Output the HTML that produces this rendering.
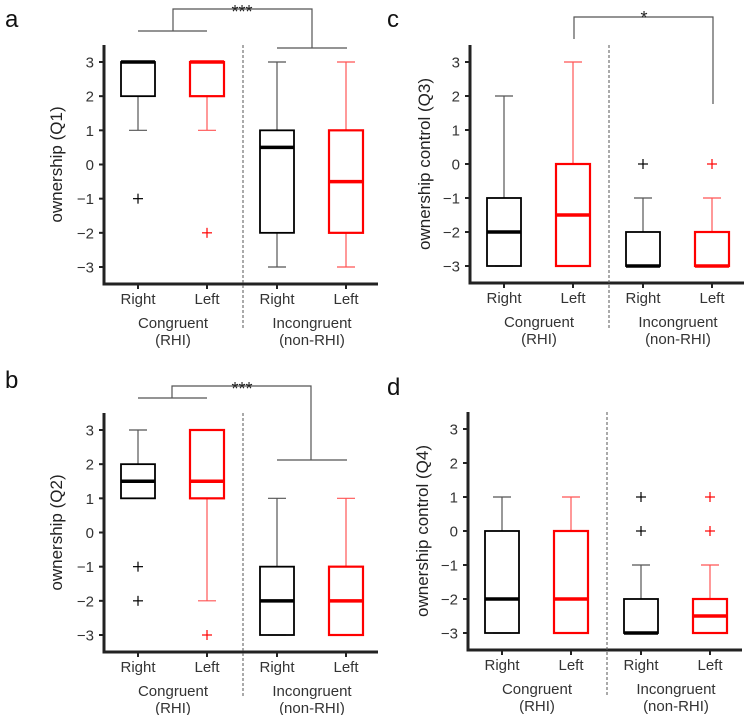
<!DOCTYPE html>
<html><head><meta charset="utf-8"><style>
body{margin:0;background:#fff;}
svg{display:block;font-family:"Liberation Sans",Arial,sans-serif;}
</style></head><body>
<svg id="chart" width="750" height="715" viewBox="0 0 750 715"></svg>
<script>
const groups = ["Right","Left","Right","Left"];
const yTicks = [3,2,1,0,-1,-2,-3];
const tickLabels = ["3","2","1","0","\u22121","\u22122","\u22123"];
// each box: [min, q1, median, q3, max]
const statsA = [[1,2,3,3,3],[1,2,3,3,3],[-3,-2,0.5,1,3],[-3,-2,-0.5,1,3]];
const outliersA = [[-1],[-2],[],[]];
const statsB = [[1,1,1.5,2,3],[-2,1,1.5,3,3],[-3,-3,-2,-1,1],[-3,-3,-2,-1,1]];
const outliersB = [[-1,-2],[-3],[],[]];
const statsC = [[-3,-3,-2,-1,2],[-3,-3,-1.5,0,3],[-3,-3,-3,-2,-1],[-3,-3,-3,-2,-1]];
const outliersC = [[],[],[0],[0]];
const statsD = [[-3,-3,-2,0,1],[-3,-3,-2,0,1],[-3,-3,-3,-2,-1],[-3,-3,-2.5,-2,-1]];
const outliersD = [[],[],[0,1],[0,1]];

const NS="http://www.w3.org/2000/svg";
const svg=document.getElementById('chart');
function mk(tag,attrs,parent){const e=document.createElementNS(NS,tag);for(const k in attrs)e.setAttribute(k,attrs[k]);(parent||svg).appendChild(e);return e;}

const panels=[
 {id:'a',letter:'a',lx:5,ly:27,ax:104,y3:62,ym3:267,top:45,bot:284,title:'ownership (Q1)',tx:62,stats:statsA,out:outliersA,
  br:{type:'two',ly:31,lv:173,top:9,rv:312,ry:48,star:'***',sx:242,sy:18}},
 {id:'b',letter:'b',lx:5,ly:388,ax:104,y3:430,ym3:635,top:413,bot:652,title:'ownership (Q2)',tx:62,stats:statsB,out:outliersB,
  br:{type:'two',ly:398,lv:172,top:386,rv:311,ry:460,star:'***',sx:242,sy:395}},
 {id:'c',letter:'c',lx:387,ly:27,ax:470,y3:62,ym3:266,top:45,bot:283,title:'ownership control (Q3)',tx:430,stats:statsC,out:outliersC,
  br:{type:'one',l:574,ly:39,top:17,r:713,ry:104,star:'*',sx:644,sy:24}},
 {id:'d',letter:'d',lx:387,ly:395,ax:468,y3:429,ym3:633,top:412,bot:650,title:'ownership control (Q4)',tx:428,stats:statsD,out:outliersD,br:null}
];
const offs=[34,103,173,242];
panels.forEach(p=>{
  const g=mk('g',{});
  
  
  const y=v=>p.ym3+(v+3)*(p.y3-p.ym3)/6;
  const lt=mk('text',{x:p.lx,y:p.ly,'font-size':24,fill:'#111'},g);lt.textContent=p.letter;
  
  
  const ya=mk('line',{x1:p.ax,y1:p.top,x2:p.ax,y2:p.bot,stroke:'#222','stroke-width':3},g);
  
  
  const xa=mk('line',{x1:p.ax-1.5,y1:p.bot,x2:p.ax+274,y2:p.bot,stroke:'#222','stroke-width':3},g);
  
  
  yTicks.forEach((t,i)=>{
    mk('line',{x1:p.ax-5,y1:y(t),x2:p.ax,y2:y(t),stroke:'#222','stroke-width':2},g);
    const tl=mk('text',{x:p.ax-10,y:y(t)+5.5,'font-size':15,'text-anchor':'end',fill:'#333'},g);tl.textContent=tickLabels[i];
    
    
  });
  const yt=mk('text',{x:0,y:0,'font-size':17,'text-anchor':'middle',fill:'#222',transform:`translate(${p.tx},${(p.top+p.bot)/2}) rotate(-90)`},g);
  yt.textContent=p.title;
  
  
  const dx=p.ax+139;
  const dl=mk('line',{x1:dx,y1:p.top,x2:dx,y2:p.bot+45,stroke:'#555','stroke-width':1,'stroke-dasharray':'3,2'},g);
  
  
  groups.forEach((gname,i)=>{
    const cx=p.ax+offs[i];
    const red=i%2===1;
    const col=red?'#ff0000':'#000';
    const wcol=red?'#ff5555':'#555';
    const s=p.stats[i];
    mk('line',{x1:cx,y1:p.bot,x2:cx,y2:p.bot+5,stroke:'#222','stroke-width':2},g);
    const xl=mk('text',{x:cx,y:p.bot+20,'font-size':15,'text-anchor':'middle',fill:'#333'},g);xl.textContent=gname;
    
    
    const bg=mk('g',{},g);
    
    
    mk('line',{x1:cx,y1:y(s[0]),x2:cx,y2:y(s[1]),stroke:wcol,'stroke-width':1.2},bg);
    mk('line',{x1:cx,y1:y(s[3]),x2:cx,y2:y(s[4]),stroke:wcol,'stroke-width':1.2},bg);
    mk('line',{x1:cx-9,y1:y(s[0]),x2:cx+9,y2:y(s[0]),stroke:wcol,'stroke-width':1.2},bg);
    mk('line',{x1:cx-9,y1:y(s[4]),x2:cx+9,y2:y(s[4]),stroke:wcol,'stroke-width':1.2},bg);
    mk('rect',{x:cx-17,y:y(s[3]),width:34,height:Math.max(y(s[1])-y(s[3]),0.5),fill:'none',stroke:col,'stroke-width':red?2.2:1.8},bg);
    mk('line',{x1:cx-17,y1:y(s[2]),x2:cx+17,y2:y(s[2]),stroke:col,'stroke-width':3.5},bg);
    p.out[i].forEach(o=>{
      const og=mk('g',{},bg);
      
      
      mk('line',{x1:cx-5,y1:y(o),x2:cx+5,y2:y(o),stroke:col,'stroke-width':1.2},og);
      mk('line',{x1:cx,y1:y(o)-5,x2:cx,y2:y(o)+5,stroke:col,'stroke-width':1.2},og);
    });
  });
  [[p.ax+69,'Congruent','(RHI)'],[p.ax+208,'Incongruent','(non-RHI)']].forEach(c=>{
    const t1=mk('text',{x:c[0],y:p.bot+44,'font-size':15,'text-anchor':'middle',fill:'#333'},g);t1.textContent=c[1];
    
    
    const t2=mk('text',{x:c[0],y:p.bot+61,'font-size':15,'text-anchor':'middle',fill:'#333'},g);t2.textContent=c[2];
    
    
  });
  if(p.br){
    const b=p.br;const bg=mk('g',{fill:'none',stroke:'#555','stroke-width':1.2},g);
    
    
    if(b.type==='two'){
      mk('line',{x1:p.ax+34,y1:b.ly,x2:p.ax+103,y2:b.ly},bg);
      mk('polyline',{points:`${b.lv},${b.ly} ${b.lv},${b.top} ${b.rv},${b.top} ${b.rv},${b.ry}`},bg);
      mk('line',{x1:p.ax+173,y1:b.ry,x2:p.ax+243,y2:b.ry},bg);
    } else {
      mk('polyline',{points:`${b.l},${b.ly} ${b.l},${b.top} ${b.r},${b.top} ${b.r},${b.ry}`},bg);
    }
    const st=mk('text',{x:b.sx,y:b.sy,'font-size':18,'text-anchor':'middle',fill:'#222'},g);st.textContent=b.star;
    
    
  }
});
</script>
</body></html>
